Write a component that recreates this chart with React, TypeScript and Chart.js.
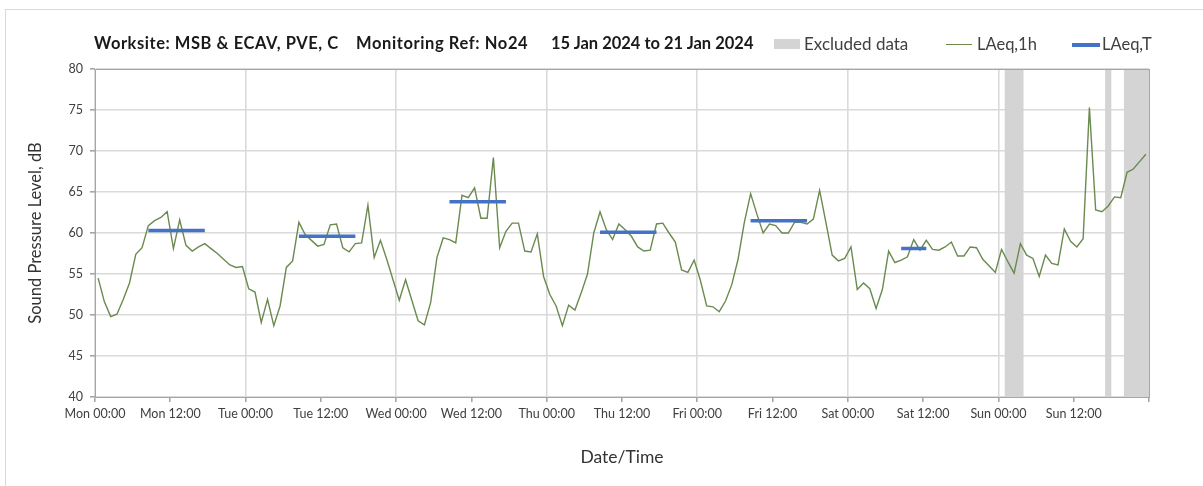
import React, { useEffect, useRef } from "react";
import { Chart, registerables } from "chart.js";

Chart.register(...registerables);

// Hourly LAeq,1h values (Mon 00:00 .. Sun 23:00)
const laeq1h: number[] = [
  54.5, 51.6, 49.8, 50.1, 51.9, 53.9, 57.4, 58.2, 60.9, 61.5, 61.9, 62.6, 58.1, 61.6, 58.5, 57.8, 58.3, 58.7, 58.1, 57.5, 56.8, 56.1, 55.8, 55.9,
  53.2, 52.8, 49.1, 51.9, 48.7, 51.1, 55.8, 56.6, 61.3, 59.8, 59.1, 58.4, 58.6, 61.0, 61.1, 58.2, 57.7, 58.7, 58.8, 63.4, 57.0, 59.1, 56.8, 54.3,
  51.8, 54.3, 51.8, 49.3, 48.8, 51.5, 57.0, 59.4, 59.2, 58.8, 64.6, 64.3, 65.5, 61.8, 61.8, 69.2, 58.2, 60.2, 61.2, 61.2, 57.8, 57.7, 59.9, 54.7,
  52.5, 51.1, 48.7, 51.2, 50.6, 52.7, 55.0, 60.0, 62.6, 60.4, 59.2, 61.1, 60.4, 59.6, 58.3, 57.8, 57.9, 61.1, 61.2, 60.0, 58.9, 55.5, 55.2, 56.7,
  54.2, 51.1, 51.0, 50.4, 51.7, 53.7, 56.8, 61.3, 64.8, 62.3, 60.0, 61.1, 60.9, 60.0, 60.0, 61.3, 61.3, 61.1, 61.7, 65.2, 61.3, 57.3, 56.6, 56.9,
  58.3, 53.1, 53.9, 53.2, 50.8, 53.1, 57.8, 56.4, 56.7, 57.1, 59.2, 57.9, 59.1, 58.0, 57.9, 58.3, 58.9, 57.2, 57.2, 58.3, 58.2, 56.8, 56.0, 55.2,
  58.0, 56.5, 55.1, 58.7, 57.3, 56.9, 54.7, 57.3, 56.3, 56.1, 60.5, 59.0, 58.3, 59.3, 75.3, 62.8, 62.6, 63.3, 64.4, 64.3, 67.4, 67.8, 68.7, 69.6,
];

// LAeq,T periods (first and last hour index) and values
const ltStartHour: number[] = [8, 32, 56, 80, 104, 128];
const ltEndHour: number[] = [17, 41, 65, 89, 113, 132];
const ltValues: number[] = [60.3, 59.6, 63.8, 60.1, 61.5, 58.1];

// Excluded data ranges (hours from Mon 00:00)
const excludedStart: number[] = [145, 161, 164];
const excludedEnd: number[] = [148, 162, 168];

const dayNames: string[] = ["Mon", "Tue", "Wed", "Thu", "Fri", "Sat", "Sun"];
const xTickLabels: string[] = dayNames.flatMap((d) => [`${d} 00:00`, `${d} 12:00`]);

const yMin = 40;
const yMax = 80;
const yStep = 5;
const totalHours = 168;

const titleParts: string[] = [
  "Worksite: MSB & ECAV, PVE, C",
  "Monitoring Ref: No24",
  "15 Jan 2024 to 21 Jan 2024",
];
const legendLabels: string[] = ["Excluded data", "LAeq,1h", "LAeq,T"];

const GREEN = "#6a8a4e";
const BLUE = "#4472c4";
const BAND = "#d4d4d4";
const GRID = "#dadada";
const FONT = "Lato, 'Open Sans', sans-serif";

const bandsPlugin = {
  id: "excludedBands",
  beforeDatasetsDraw(chart: any) {
    const { ctx, chartArea, scales } = chart;
    const x = scales.x;
    ctx.save();
    ctx.fillStyle = BAND;
    excludedStart.forEach((s, i) => {
      const x0 = x.getPixelForValue(s);
      const x1 = x.getPixelForValue(excludedEnd[i]);
      ctx.fillRect(x0, chartArea.top, x1 - x0, chartArea.bottom - chartArea.top);
    });
    ctx.restore();
  },
  afterDatasetsDraw(chart: any) {
    const { ctx, chartArea } = chart;
    ctx.save();
    ctx.strokeStyle = "#a6a6a6";
    ctx.lineWidth = 1;
    ctx.strokeRect(
      Math.round(chartArea.left) + 0.5,
      Math.round(chartArea.top) + 0.5,
      Math.round(chartArea.right - chartArea.left),
      Math.round(chartArea.bottom - chartArea.top)
    );
    ctx.restore();
  },
};

export default function App() {
  const canvasRef = useRef<HTMLCanvasElement | null>(null);

  useEffect(() => {
    if (!canvasRef.current) return;
    const lineData = laeq1h.map((v, i) => ({ x: i + 0.5, y: v }));
    const ltData: any[] = [];
    ltValues.forEach((v, i) => {
      ltData.push({ x: ltStartHour[i] + 0.5, y: v });
      ltData.push({ x: ltEndHour[i] + 0.5, y: v });
      ltData.push({ x: ltEndHour[i] + 1, y: null });
    });

    const chart = new Chart(canvasRef.current, {
      type: "line",
      data: {
        datasets: [
          {
            label: legendLabels[2],
            data: ltData,
            borderColor: BLUE,
            borderWidth: 3.5,
            pointRadius: 0,
            spanGaps: false,
            tension: 0,
          },
          {
            label: legendLabels[1],
            data: lineData,
            borderColor: GREEN,
            borderWidth: 1.4,
            pointRadius: 0,
            tension: 0,
          },
        ],
      },
      options: {
        responsive: false,
        animation: false,
        layout: { padding: { top: 69, right: 54, left: 0, bottom: 0 } },
        plugins: {
          legend: { display: false },
          title: { display: false },
          tooltip: { enabled: false },
        },
        scales: {
          x: {
            type: "linear",
            min: 0,
            max: totalHours,
            afterFit: (scale: any) => {
              scale.height = 89;
            },
            ticks: {
              stepSize: 12,
              autoSkip: false,
              maxRotation: 0,
              padding: 4,
              color: "#404040",
              font: { family: FONT, size: 12.5 },
              callback: (v: any) => (v < totalHours ? xTickLabels[Math.round(v / 12)] : ""),
            },
            grid: {
              color: (ctx: any) =>
                ctx.tick && ctx.tick.value % 24 === 0 ? GRID : "rgba(0,0,0,0)",
              lineWidth: 1.6,
              tickColor: "#a6a6a6",
              tickLength: 5,
            },
            border: { display: true, color: "#a6a6a6" },
            title: {
              display: true,
              text: "Date/Time",
              color: "#333333",
              font: { family: FONT, size: 17.5 },
              padding: { top: 0, bottom: 18 },
            },
          },
          y: {
            min: yMin,
            max: yMax,
            afterFit: (scale: any) => {
              scale.width = 95;
            },
            ticks: {
              stepSize: yStep,
              padding: 7,
              color: "#404040",
              font: { family: FONT, size: 12.5 },
            },
            grid: {
              color: GRID,
              lineWidth: 1.6,
              tickColor: "#a6a6a6",
              tickLength: 5,
            },
            border: { display: true, color: "#a6a6a6" },
            title: {
              display: true,
              text: "Sound Pressure Level, dB",
              color: "#333333",
              font: { family: FONT, size: 16.5 },
              padding: { top: 26, bottom: 0 },
            },
          },
        },
      },
      plugins: [bandsPlugin],
    });
    return () => chart.destroy();
  }, []);

  const textBase: React.CSSProperties = {
    position: "absolute",
    top: 33,
    lineHeight: "20px",
    whiteSpace: "nowrap",
    fontFamily: FONT,
  };

  return (
    <div
      style={{
        position: "absolute",
        left: 0,
        top: 0,
        width: 1203,
        height: 486,
        overflow: "hidden",
        background: "#ffffff",
      }}
    >
      <div
        style={{
          position: "absolute",
          left: 5,
          top: 9,
          width: 1400,
          height: 700,
          border: "1px solid #d9d9d9",
          boxSizing: "border-box",
        }}
      />
      <canvas
        ref={canvasRef}
        width={1203}
        height={486}
        style={{ position: "absolute", left: 0, top: 0, width: 1203, height: 486 }}
      />
      <span
        style={{ ...textBase, left: 94, fontWeight: 700, fontSize: 16.5, letterSpacing: 0.55, color: "#1a1a1a" }}
      >
        {titleParts[0]}
      </span>
      <span
        style={{ ...textBase, left: 356, fontWeight: 700, fontSize: 16.5, letterSpacing: 0.6, color: "#1a1a1a" }}
      >
        {titleParts[1]}
      </span>
      <span style={{ ...textBase, left: 551, fontWeight: 700, fontSize: 16.5, color: "#1a1a1a" }}>
        {titleParts[2]}
      </span>
      <div
        style={{ position: "absolute", left: 774, top: 39, width: 26, height: 10, background: BAND }}
      />
      <span style={{ ...textBase, top: 34, left: 804, fontSize: 17, color: "#404040" }}>
        {legendLabels[0]}
      </span>
      <div
        style={{ position: "absolute", left: 946, top: 44, width: 26, height: 1.4, background: GREEN }}
      />
      <span style={{ ...textBase, top: 34, left: 977, fontSize: 16.5, color: "#404040" }}>
        {legendLabels[1]}
      </span>
      <div
        style={{ position: "absolute", left: 1072, top: 43, width: 28, height: 3.5, background: BLUE }}
      />
      <span style={{ ...textBase, top: 34, left: 1102, fontSize: 16.5, color: "#404040" }}>
        {legendLabels[2]}
      </span>
    </div>
  );
}
